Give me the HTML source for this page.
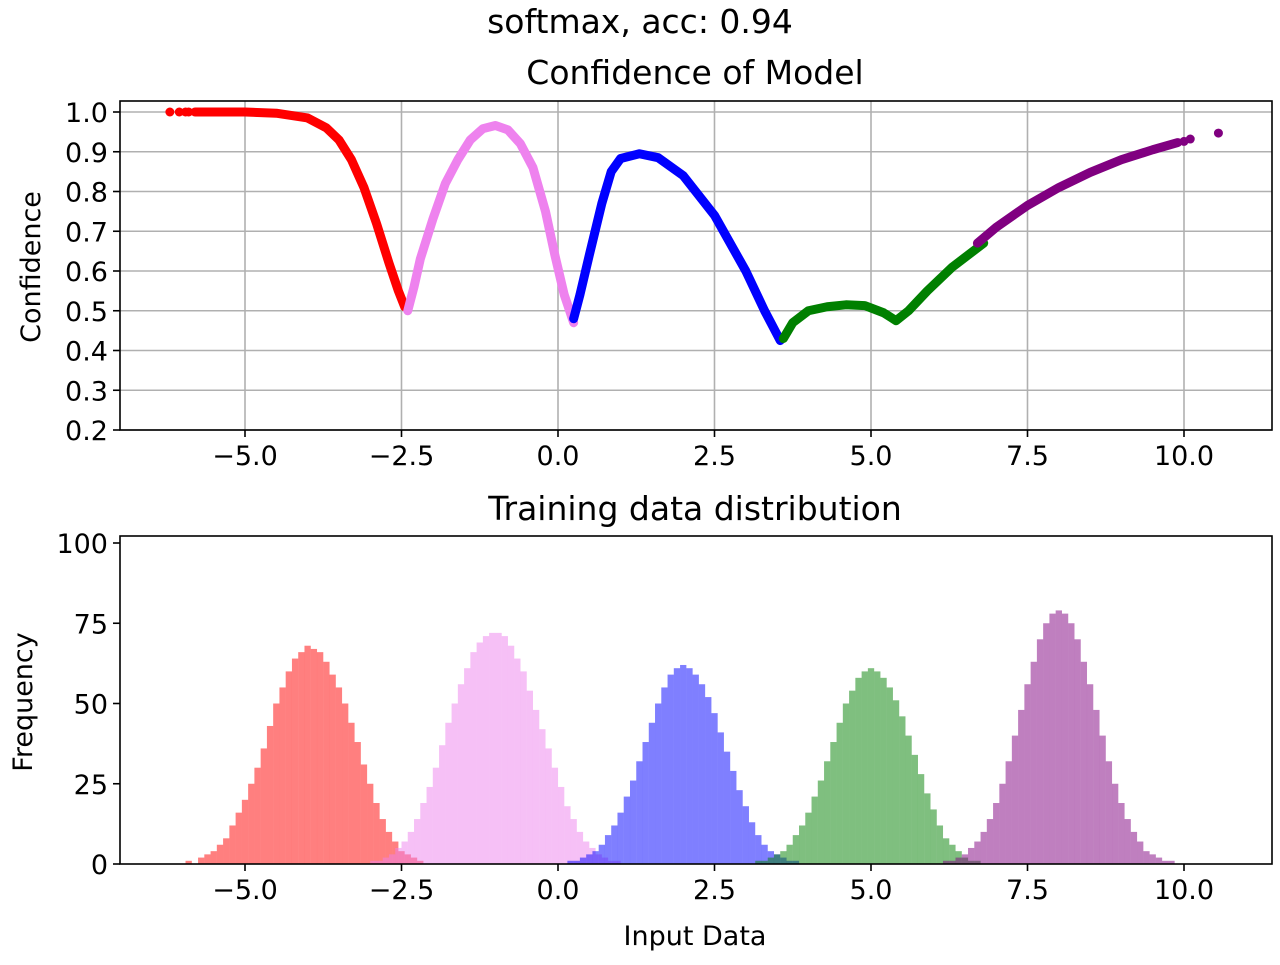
<!DOCTYPE html>
<html><head><meta charset="utf-8"><style>
body{margin:0;background:#fff;}
svg text{font-family:"DejaVu Sans","Liberation Sans",sans-serif;fill:#000;}
</style></head><body>
<svg id="chart" width="1280" height="960" xmlns="http://www.w3.org/2000/svg">
<text x="640" y="33" font-size="33" text-anchor="middle">softmax, acc: 0.94</text>
<text x="695" y="84" font-size="33" text-anchor="middle">Confidence of Model</text>
<text x="695" y="520" font-size="33" text-anchor="middle">Training data distribution</text>
<text x="40" y="267" font-size="27" text-anchor="middle" transform="rotate(-90 40 267)">Confidence</text>
<text x="32" y="702" font-size="27" text-anchor="middle" transform="rotate(-90 32 702)">Frequency</text>
<text x="695" y="945" font-size="27" text-anchor="middle">Input Data</text>
<g id="gtop"></g><g id="gbot"></g>
</svg>
<script>
const xTicks=[-5,-2.5,0,2.5,5,7.5,10];
const xTickLabels=["−5.0","−2.5","0.0","2.5","5.0","7.5","10.0"];
const confTicks=[0.2,0.3,0.4,0.5,0.6,0.7,0.8,0.9,1.0];
const freqTicks=[0,25,50,75,100];
const segColors=["red","violet","blue","green","purple"];
const segX=[
[-5.8,-5.0,-4.5,-4.0,-3.7,-3.5,-3.3,-3.1,-2.9,-2.7,-2.55,-2.45],
[-2.4,-2.3,-2.2,-2.0,-1.8,-1.6,-1.4,-1.2,-1.0,-0.8,-0.6,-0.4,-0.2,-0.05,0.1,0.25],
[0.25,0.35,0.5,0.7,0.85,1.0,1.3,1.6,2.0,2.5,3.0,3.3,3.55],
[3.6,3.75,4.0,4.3,4.6,4.9,5.2,5.4,5.6,5.9,6.3,6.8],
[6.7,7.0,7.5,8.0,8.5,9.0,9.5,9.9]];
const segY=[
[1.0,1.0,0.997,0.985,0.96,0.93,0.88,0.81,0.72,0.62,0.55,0.51],
[0.5,0.56,0.63,0.73,0.82,0.88,0.93,0.958,0.966,0.955,0.92,0.86,0.75,0.64,0.54,0.47],
[0.48,0.54,0.64,0.77,0.85,0.883,0.895,0.885,0.84,0.74,0.6,0.5,0.425],
[0.43,0.47,0.5,0.51,0.515,0.513,0.495,0.475,0.5,0.55,0.61,0.67],
[0.67,0.71,0.765,0.81,0.848,0.88,0.905,0.923]];
const dotX=[-6.2,-6.05,-5.95,-5.9,10.0,10.1,10.55];
const dotY=[1.0,1.0,1.0,1.0,0.926,0.932,0.947];
const dotC=["red","red","red","red","purple","purple","purple"];
const histStart=[-6.15,-3.1,0.05,3.05,6.05];
const histColors=["red","violet","blue","green","purple"];
const histVals=[
[0,0,1,0,2,3,4,6,8,12,16,20,25,30,36,43,50,55,60,64,66,68,67,66,63,59,55,50,44,38,31,25,19,14,10,7,4,3,2,1,0],
[0,1,1,2,3,5,7,10,14,19,24,30,37,44,50,56,61,66,69,71,72,72,71,68,64,60,54,48,42,36,30,24,18,14,10,7,5,3,2,1,1,0,0],
[0,1,1,2,3,4,6,9,12,16,21,26,32,38,44,50,55,59,61,62,61,59,56,52,47,41,35,29,23,18,13,9,6,4,3,2,1,1,0,0],
[0,1,1,2,3,4,6,9,12,16,21,26,32,38,44,50,54,58,60,61,60,58,55,51,46,40,34,28,22,17,12,8,6,4,2,1,1,0,0],
[0,1,1,2,3,5,7,10,14,19,25,32,40,48,56,63,70,75,78,79,78,75,70,63,56,48,40,32,25,19,14,10,7,4,3,2,1,1,0,0]];

const NS="http://www.w3.org/2000/svg";
const L=120,R=1272;
const xs=v=>558+v*62.6;
const yTop=v=>112-(v-1.0)*397.5;
const yBot=v=>864-v*3.21;
function mk(p,t,a){const e=document.createElementNS(NS,t);for(const k in a)e.setAttribute(k,a[k]);p.appendChild(e);return e;}
const gTop=document.getElementById('gtop'),gBot=document.getElementById('gbot');
xTicks.forEach(t=>{const g=mk(gTop,'line',{x1:xs(t),x2:xs(t),y1:101,y2:430,stroke:'#b0b0b0','stroke-width':1.6});

});
confTicks.forEach(t=>{const g=mk(gTop,'line',{x1:L,x2:R,y1:yTop(t),y2:yTop(t),stroke:'#b0b0b0','stroke-width':1.6});


const tk=mk(gTop,'line',{x1:L-7,x2:L,y1:yTop(t),y2:yTop(t),stroke:'#000','stroke-width':1.6});


const tx=mk(gTop,'text',{x:L-12,y:yTop(t)+10,'font-size':27,'text-anchor':'end'});tx.textContent=t.toFixed(1);

});
segX.forEach((xsArr,i)=>{const pts=xsArr.map((x,j)=>xs(x)+','+yTop(segY[i][j])).join(' ');
const p=mk(gTop,'polyline',{points:pts,fill:'none',stroke:segColors[i],'stroke-width':9,'stroke-linecap':'round','stroke-linejoin':'round'});

});
dotX.forEach((x,i)=>{const c=mk(gTop,'circle',{cx:xs(x),cy:yTop(dotY[i]),r:4.5,fill:dotC[i]});

});
const f1=mk(gTop,'rect',{x:L,y:101,width:R-L,height:329,fill:'none',stroke:'#000','stroke-width':1.6});


histVals.forEach((arr,i)=>{arr.forEach((v,j)=>{const x0=histStart[i]+j*0.1;
const r=mk(gBot,'rect',{x:xs(x0),y:yBot(v),width:6.3,height:864-yBot(v),fill:histColors[i],'fill-opacity':0.5});

});});
freqTicks.forEach(t=>{const tk=mk(gBot,'line',{x1:L-7,x2:L,y1:yBot(t),y2:yBot(t),stroke:'#000','stroke-width':1.6});


const tx=mk(gBot,'text',{x:L-12,y:yBot(t)+10,'font-size':27,'text-anchor':'end'});tx.textContent=t;

});
const f2=mk(gBot,'rect',{x:L,y:536,width:R-L,height:328,fill:'none',stroke:'#000','stroke-width':1.6});


[[gTop,430],[gBot,864]].forEach(([g,yb])=>{xTicks.forEach((t,i)=>{
const tk=mk(g,'line',{x1:xs(t),x2:xs(t),y1:yb,y2:yb+7,stroke:'#000','stroke-width':1.6});


const tx=mk(g,'text',{x:xs(t),y:yb+35,'font-size':27,'text-anchor':'middle'});tx.textContent=xTickLabels[i];

});});
</script>
</body></html>
